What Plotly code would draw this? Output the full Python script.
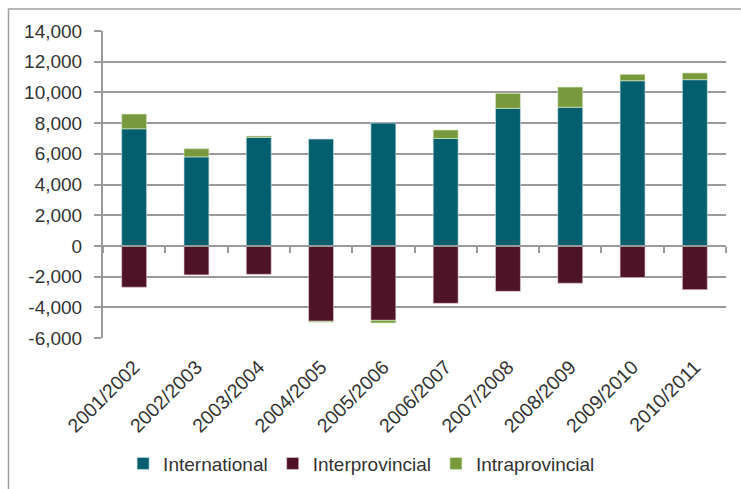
import plotly.graph_objects as go

# Net migration components by fiscal year
years = ["2001/2002", "2002/2003", "2003/2004", "2004/2005", "2005/2006",
         "2006/2007", "2007/2008", "2008/2009", "2009/2010", "2010/2011"]
international = [7630, 5800, 7070, 6960, 8000, 7000, 8960, 9030, 10760, 10830]
interprovincial = [-2690, -1890, -1850, -4910, -4850, -3740, -2960, -2430, -2060, -2850]
intraprovincial = [960, 530, 90, -60, -170, 550, 980, 1320, 420, 440]

y_ticks = list(range(-6000, 14001, 2000))

teal = "#035F6E"
maroon = "#4E1326"
green = "#789A3D"
grid = "#9A9A9A"
text_col = "#333333"
font = "Liberation Sans, Arial, sans-serif"

fig = go.Figure()
for name, vals, col, edge in [
    ("International", international, teal, "rgba(200,225,230,0.8)"),
    ("Interprovincial", interprovincial, maroon, "rgba(225,200,210,0.8)"),
    ("Intraprovincial", intraprovincial, green, "rgba(220,235,200,0.8)"),
]:
    fig.add_trace(go.Bar(
        x=years, y=vals, name=name,
        marker=dict(color=col, line=dict(color=edge, width=0.8)),
        width=0.4,
    ))

# Invisible helper trace so the category-boundary axis at zero is rendered
fig.add_trace(go.Scatter(x=[-0.5, 9.5], y=[0, 0], xaxis="x2", yaxis="y",
                         mode="lines", line=dict(width=0), showlegend=False,
                         hoverinfo="skip"))

fig.update_layout(
    barmode="relative",
    width=741, height=489,
    margin=dict(l=103, r=15, t=31, b=151, autoexpand=False),
    paper_bgcolor="white", plot_bgcolor="white",
    font=dict(family=font, size=19, color=text_col),
    bargap=0.6,
    xaxis=dict(
        type="category", range=[-0.5, 9.5], automargin=False,
        tickangle=-45, showline=False, showgrid=False,
        ticks="outside", ticklen=9, tickcolor="rgba(0,0,0,0)",
        tickfont=dict(size=19.5, color=text_col),
    ),
    xaxis2=dict(
        overlaying="x", anchor="free", position=0.3, range=[-0.5, 9.5],
        showline=True, linecolor=grid, linewidth=2,
        ticks="outside", ticklen=6, tickcolor=grid, tickwidth=1.5,
        tickvals=[i - 0.5 for i in range(11)], showticklabels=False,
        showgrid=False, zeroline=False,
    ),
    yaxis=dict(
        range=[-6000, 14000], tickvals=y_ticks, automargin=False,
        ticktext=[f"{v:,}" for v in y_ticks],
        showgrid=True, gridcolor=grid, gridwidth=1.5,
        zeroline=False,
        showline=True, linecolor=grid, linewidth=2,
        ticks="outside", ticklen=7, tickcolor=grid, tickwidth=1.5,
        ticklabelstandoff=8,
        tickfont=dict(size=19, color=text_col),
    ),
    legend=dict(
        orientation="h", x=0.488, xref="container", xanchor="center",
        y=0.052, yref="container", yanchor="middle",
        font=dict(size=19, color=text_col), traceorder="normal",
        itemwidth=30,
    ),
    shapes=[dict(type="rect", xref="paper", yref="paper",
                 x0=-0.1517, x1=1.1, y0=-0.6, y1=1.0717,
                 line=dict(color="#A0A0A0", width=1.5), layer="below")],
)

fig.write_html("out.html")
